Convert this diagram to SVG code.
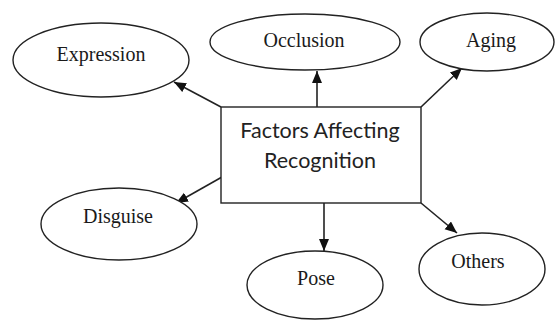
<svg xmlns="http://www.w3.org/2000/svg" width="556" height="320" viewBox="0 0 556 320">
<style>
.n{fill:#fff;stroke:#222;stroke-width:1.4}
.t{font-family:"Liberation Serif","Times New Roman",serif;font-size:20px;fill:#1a1a1a;text-anchor:middle}
.b{font-family:Lato,"Open Sans",sans-serif;font-size:21.5px;fill:#222;text-anchor:middle}
.c{stroke:#222;stroke-width:1.6;fill:none}
</style>
<defs>
<marker id="ah" markerUnits="userSpaceOnUse" markerWidth="14" markerHeight="12" refX="12" refY="5" orient="auto">
<path d="M0,0 L12,5 L0,10 Z" fill="#111"/>
</marker>
</defs>
<rect width="556" height="320" fill="#fff"/>
<g id="connectors">
<line class="c" x1="221" y1="107" x2="174" y2="82" marker-end="url(#ah)"/>
<line class="c" x1="317" y1="107" x2="317" y2="71" marker-end="url(#ah)"/>
<line class="c" x1="421" y1="107" x2="462" y2="68" marker-end="url(#ah)"/>
<line class="c" x1="222" y1="177" x2="176" y2="203" marker-end="url(#ah)"/>
<line class="c" x1="324" y1="203" x2="324" y2="251" marker-end="url(#ah)"/>
<line class="c" x1="421" y1="203" x2="457" y2="233" marker-end="url(#ah)"/>
</g>
<g id="center">
<rect class="n" x="221" y="107" width="200" height="96"/>
<text class="b" x="320" y="138">Factors Affecting</text>
<text class="b" x="320" y="168">Recognition</text>
</g>
<g id="expression">
<ellipse class="n" cx="101" cy="60" rx="88" ry="37"/>
<text class="t" x="101" y="61">Expression</text>
</g>
<g id="occlusion">
<ellipse class="n" cx="305" cy="42" rx="95" ry="28"/>
<text class="t" x="304" y="47">Occlusion</text>
</g>
<g id="aging">
<ellipse class="n" cx="487" cy="42" rx="67" ry="29"/>
<text class="t" x="491" y="47">Aging</text>
</g>
<g id="disguise">
<ellipse class="n" cx="119" cy="224" rx="78" ry="36"/>
<text class="t" x="118" y="223">Disguise</text>
</g>
<g id="pose">
<ellipse class="n" cx="315" cy="285" rx="68" ry="34"/>
<text class="t" x="316" y="285">Pose</text>
</g>
<g id="others">
<ellipse class="n" cx="482" cy="269" rx="63" ry="36"/>
<text class="t" x="478" y="268">Others</text>
</g>
</svg>
